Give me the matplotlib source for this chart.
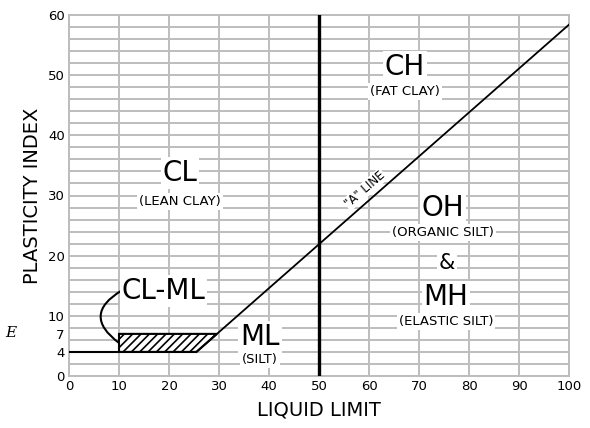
import matplotlib
matplotlib.use("Agg")
import matplotlib.pyplot as plt
import numpy as np

# Chart data:
x_ticks = [0, 10, 20, 30, 40, 50, 60, 70, 80, 90, 100]
y_ticks = [0, 4, 7, 10, 20, 30, 40, 50, 60]
x_grid = np.arange(0, 101, 10)
y_grid = np.arange(0, 61, 2)
ll_divide = 50  # [%] liquid limit boundary
a_slope = 0.73  # "A" line: PI = 0.73 (LL - 20)
a_offset = 20
pi_low = 4
pi_high = 7
clml_ll_start = 10
ll_max = 100

zone_names = ['CL', 'CH', 'OH', 'MH', 'ML']
zone_desc = ['(LEAN CLAY)', '(FAT CLAY)', '(ORGANIC SILT)', '(ELASTIC SILT)', '(SILT)']
zone_ll = [22.2, 67.2, 74.8, 75.4, 38.2]
zone_pi = [33.8, 51.3, 28.0, 13.2, 6.5]
desc_pi = [29.0, 47.3, 23.8, 9.0, 2.8]


def a_line_ll(pi):
    return a_offset + pi / a_slope


grid_col = '#bdbdbd'
plt.rcParams['hatch.linewidth'] = 1.2

fig = plt.figure(figsize=(5.9, 4.28), dpi=100)
ax = fig.add_axes([69 / 590, 52 / 428, 500 / 590, 361 / 428])

ax.set_xlim(0, 100)
ax.set_ylim(0, 60)
ax.set_xticks(x_ticks)
ax.set_yticks(y_ticks)

# Grid: vertical every 10, horizontal every 2
ax.vlines(x_grid, 0, 60, color=grid_col, linewidth=1.4, zorder=1)
ax.hlines(y_grid, 0, 100, color=grid_col, linewidth=1.4, zorder=1)
for s in ax.spines.values():
    s.set_color(grid_col)
    s.set_linewidth(1.4)
ax.tick_params(which='both', length=0, labelsize=9.5, pad=3)

# CL-ML hatched zone
x7 = a_line_ll(pi_high)
x4 = a_line_ll(pi_low)
ax.fill([clml_ll_start, clml_ll_start, x7, x4], [pi_low, pi_high, pi_high, pi_low],
        facecolor='white', edgecolor='black', hatch='////', linewidth=1.5, zorder=3)
ax.plot([0, x4], [pi_low, pi_low], color='black', linewidth=1.5, zorder=4)
ax.plot([x4, ll_max], [pi_low, a_slope * (ll_max - a_offset)], color='black',
        linewidth=1.3, zorder=4)
ax.axvline(ll_divide, color='black', linewidth=2.4, zorder=4)

box = dict(facecolor='white', edgecolor='none', pad=1.5)
for name, desc, lx, py, dy in zip(zone_names, zone_desc, zone_ll, zone_pi, desc_pi):
    ax.text(lx, py, name, fontsize=20, ha='center', va='center', bbox=box, zorder=5)
    ax.text(lx, dy, desc, fontsize=9.5, ha='center', va='center', bbox=box, zorder=5)
ax.text(75.6, 18.8, '&', fontsize=15, ha='center', va='center', bbox=box, zorder=5)

ax.text(59.2, 31.0, '"A" LINE', fontsize=8.5, ha='center', va='center',
        rotation=41, rotation_mode='anchor', bbox=dict(facecolor='white', edgecolor='none', pad=0.5),
        zorder=5)

ax.annotate('CL-ML', xy=(10, 5.5), xytext=(18.9, 14.2), fontsize=20, ha='center', va='center',
            bbox=box, zorder=5,
            arrowprops=dict(arrowstyle='-', color='black', linewidth=1.5,
                            connectionstyle='arc3,rad=0.75', shrinkA=0, shrinkB=0,
                            patchA=None, relpos=(0.0, 0.5)))

ax.set_xlabel('LIQUID LIMIT', fontsize=14, labelpad=5)
ax.set_ylabel('PLASTICITY INDEX', fontsize=14, labelpad=4)

fig.text(5 / 590, 1 - 333 / 428, 'E', fontsize=11, style='italic', family='serif',
         va='center')

fig.savefig('out.png', dpi=100)
